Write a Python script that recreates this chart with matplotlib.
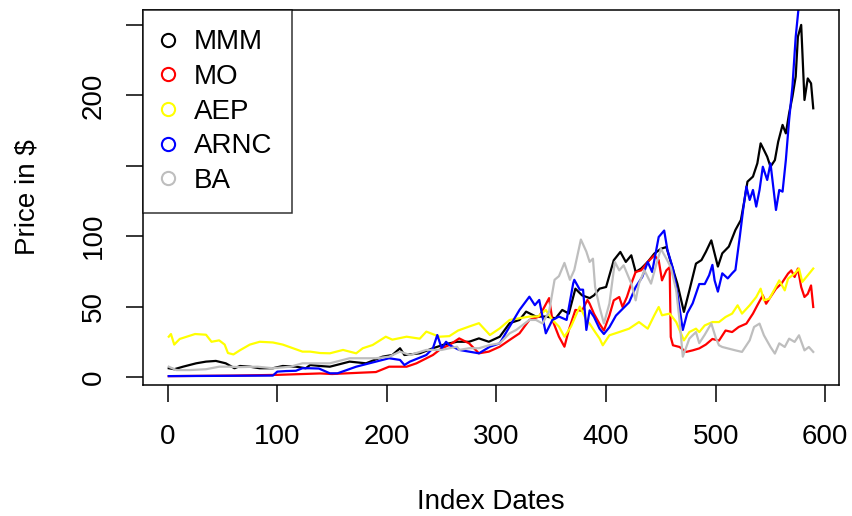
import matplotlib.pyplot as plt
from matplotlib.lines import Line2D

plt.rcParams['font.family'] = ['Liberation Sans', 'DejaVu Sans']

# values (index, price)
mmm_x = [1, 6, 14, 26, 35, 44, 53, 61, 66, 75, 84, 96, 105, 117, 126, 130, 139, 148, 166, 181,
         196, 205, 212, 216, 230, 242, 251, 257, 264, 275, 284, 293, 303, 312, 321, 327, 336, 345,
         354, 360, 366, 372, 378, 385, 389, 394, 400, 407, 413, 418, 423, 427, 432, 438, 444, 450,
         455, 459, 465, 471, 476, 482, 487, 491, 496, 502, 506, 512, 518, 523, 526, 529, 534, 538,
         541, 544, 547, 550, 554, 557, 561, 564, 567, 570, 573, 575, 578, 581, 584, 587, 589]
mmm_y = [6.2, 5.5, 7.3, 9.7, 10.9, 11.4, 9.7, 6.2, 7.8, 7.3, 6.2, 6.2, 7.8, 7.3, 6.2, 8.5, 7.8, 7.3, 10.9, 9.7,
         14.4, 15.6, 20.4, 15.6, 16.8, 20.4, 22.7, 23.9, 25, 25, 27.4, 25, 28.6, 38.2, 40.5, 46.4, 42.9, 42.9,
         41.7, 47.6, 45, 62.7, 58, 56, 58, 62.7, 63.9, 82.9, 88.8, 81.7, 86.4, 74.6, 77, 81.7, 87.6, 91,
         92.3, 81.7, 66.3, 46.2, 61.5, 80.5, 83, 88.8, 97, 78.4, 87.8, 92.6, 104.4, 111.5, 124.5, 138.7, 142.3, 151.7,
         165.9, 161.2, 156.4, 149.3, 154, 167, 179, 173, 187.3, 199, 213.3, 241.6, 250, 196.7, 212, 208.5, 190.8]

mo_x = [1, 30, 60, 100, 139, 150, 175, 190, 202, 218, 227, 242, 250, 257, 266, 275, 284, 293, 303, 312,
        321, 330, 339, 348, 351, 357, 362, 366, 372, 378, 383, 385, 389, 394, 398, 403, 407, 412, 415, 419,
        423, 427, 432, 438, 444, 448, 451, 455, 458, 459, 461, 467, 473, 479, 485, 491, 497, 503, 509, 515,
        521, 528, 534, 538, 543, 546, 550, 555, 560, 566, 569, 572, 575, 578, 581, 584, 587, 589]
mo_y = [0.6, 0.8, 1.0, 1.5, 2.5, 2.1, 3.0, 3.5, 7.3, 7.3, 9.7, 15.6, 20.4, 22.7, 27.4, 23.9, 16.8, 18, 21.5, 26.3,
        31, 40.5, 42.9, 56, 40.5, 28.6, 21.5, 33.4, 47.6, 47, 54.7, 52, 44.8, 37.8, 33, 43.6, 54.4, 56.8, 49.7, 56.8,
        66.3, 74.6, 75.7, 81.7, 86.4, 82.9, 68.6, 75.7, 78, 28.4, 22.5, 21.3, 17.8, 18.9, 20.3, 23, 27, 25.8, 33, 31.9,
        35.5, 37.9, 45, 50.9, 58, 52, 56.8, 62.7, 66.3, 73.4, 75.7, 71, 77, 63.9, 56.8, 59, 65, 49.7]

aep_x = [1, 3, 6, 11, 25, 35, 40, 47, 52, 55, 60, 66, 75, 84, 96, 105, 114, 123, 130, 139,
         148, 160, 172, 178, 187, 199, 205, 218, 230, 236, 248, 257, 265, 275, 284, 294, 303, 312, 321, 330,
         338, 345, 351, 357, 362, 368, 376, 382, 385, 390, 394, 397, 403, 412, 421, 430, 438, 444, 448, 451,
         458, 464, 471, 476, 482, 485, 490, 497, 503, 509, 515, 520, 524, 531, 537, 541, 544, 549, 554, 558,
         563, 566, 572, 576, 579, 584, 589]
aep_y = [28.6, 30.5, 23, 27, 30.5, 30, 25, 26, 23, 17, 16, 19, 23, 25, 24.5, 23, 20.5, 18, 18, 17,
         16.8, 19.2, 16.8, 20.4, 22.7, 28.6, 26.5, 28.6, 27.2, 32.2, 28.6, 29, 33, 35.8, 38.2, 29.8, 34.5, 40.5, 41.7, 42.9,
         43, 47.6, 40.5, 35.8, 28.6, 35.8, 50, 40.5, 37.8, 31.9, 27.4, 22.5, 29.6, 31.9, 34.3, 39, 34.3, 43.8, 49.7, 43.8,
         45, 39, 26, 31.9, 34.3, 31.9, 36.6, 39, 39, 42.6, 45, 50.9, 45, 50.9, 56.8, 62.7, 54.4, 55.6, 62.7, 68.6,
         61.5, 69.8, 73.4, 77, 67.5, 72.2, 77]

arnc_x = [1, 50, 96, 100, 108, 117, 123, 129, 138, 148, 155, 172, 190, 202, 212, 216, 221, 236, 242, 246,
          250, 254, 257, 266, 275, 284, 294, 303, 312, 321, 330, 335, 339, 345, 351, 357, 364, 370, 371, 376,
          379, 382, 385, 389, 394, 398, 403, 409, 415, 421, 427, 433, 438, 442, 448, 453, 456, 461, 465, 470,
          474, 479, 485, 490, 494, 497, 499, 502, 506, 511, 515, 518, 522, 525, 528, 531, 534, 537, 540, 543,
          547, 550, 555, 558, 561, 564, 567, 570, 573, 576, 578]
arnc_y = [0.6, 0.8, 1, 3.8, 4.2, 4.4, 6.2, 6.2, 6, 2.6, 2.6, 7.3, 10.9, 13.3, 12.1, 8.5, 10.9, 15.6, 20.4, 29.8,
          20.4, 25, 22.7, 19.2, 18, 16.8, 21.5, 23.9, 35.8, 47.6, 57, 51, 54.7, 31, 40.5, 42.9, 40.5, 66.5, 69, 62,
          62, 33.4, 47.3, 42.6, 34.3, 30.5, 35.3, 43.6, 48.3, 53, 63.9, 71, 81.7, 74.6, 99.4, 104, 90, 77, 59.4, 33.4,
          45.2, 52.3, 66, 66, 72.2, 79.6, 68.6, 60.6, 73.6, 70, 73.6, 76, 99.7, 118.6, 135.2, 125.7, 132.8, 121, 132.8, 149.3,
          139.9, 151.7, 118.6, 132.8, 131.6, 154, 182.5, 206.2, 241.6, 265, 272]

ba_x = [1, 8, 20, 35, 47, 56, 66, 82, 96, 112, 123, 130, 139, 148, 166, 190, 202, 212, 221, 236,
        250, 257, 264, 266, 275, 284, 294, 303, 312, 318, 330, 336, 342, 348, 353, 357, 362, 367, 371, 377,
        382, 385, 388, 390, 394, 398, 403, 408, 412, 416, 423, 427, 430, 435, 441, 446, 450, 455, 459, 464,
        467, 470, 476, 482, 485, 490, 496, 500, 503, 506, 512, 518, 524, 531, 535, 540, 544, 550, 554, 558,
        563, 567, 572, 576, 581, 585, 589]
ba_y = [7.3, 4.9, 4.9, 5.5, 7.3, 7.3, 7, 7.3, 6.2, 7.3, 9.7, 9.7, 9.7, 9.7, 13.3, 13.3, 14.4, 18, 15.6, 19.2,
        19.2, 20.4, 21.5, 19.2, 20.4, 20.4, 22.7, 23.9, 31, 33.4, 40.5, 40.5, 38, 46.4, 69, 71.6, 81, 69, 76, 97.6,
        89, 81.7, 84, 63.9, 49.7, 38, 52, 81.7, 75.7, 79.3, 66.3, 54.4, 66.3, 75.7, 66.3, 80.5, 91, 84, 78, 61.5,
        40.2, 14.4, 27.3, 31.9, 24, 30, 38, 28, 22.5, 21.3, 20.1, 18.9, 17.8, 26, 35.5, 37.9, 29.6, 21.3, 16.6, 23.9,
        21.3, 27.2, 24.9, 29.6, 18.9, 21.3, 17.8]

names = ['MMM', 'MO', 'AEP', 'ARNC', 'BA']
colors = ['black', 'red', 'yellow', 'blue', '#BEBEBE']

x_ticks = [0, 100, 200, 300, 400, 500, 600]
y_ticks = [0, 50, 100, 150, 200, 250]
y_tick_labels = ['0', '50', '100', '', '200', '']

fig = plt.figure(figsize=(8.52, 5.16), dpi=100)
ax = fig.add_axes([143 / 852, 1 - 385 / 516, (839 - 143) / 852, (385 - 10) / 516])

series = [(mmm_x, mmm_y), (mo_x, mo_y), (aep_x, aep_y), (arnc_x, arnc_y), (ba_x, ba_y)]
for (xs, ys), c in zip(series, colors):
    ax.plot(xs, ys, color=c, linewidth=1.6)

ax.set_xlim(-22.5, 612.5)
ax.set_ylim(-5.7, 260.6)
ax.set_xticks(x_ticks)
ax.set_xticklabels([str(t) for t in x_ticks])
ax.set_yticks(y_ticks)
ax.set_yticklabels(y_tick_labels, rotation=90, va='center')
ax.tick_params(axis='both', labelsize=20, length=12, width=1.1, color='black')
ax.tick_params(axis='x', pad=16)
ax.tick_params(axis='y', pad=14)
for s in ax.spines.values():
    s.set_linewidth(1.1)
ax.set_xlabel('Index Dates', fontsize=20, labelpad=28)
ax.set_ylabel('Price in $', fontsize=20, labelpad=29)

handles = [Line2D([], [], linestyle='none', marker='o', markersize=9.5, markerfacecolor='none',
                  markeredgecolor=c, markeredgewidth=1.5) for c in colors]
leg = ax.legend(handles, names, loc='upper left', borderaxespad=0, fontsize=20, frameon=True,
                fancybox=False, edgecolor='black', handlelength=0.4, handletextpad=0.72,
                labelspacing=0.31, borderpad=0.7)
leg.get_frame().set_linewidth(1.1)

plt.savefig('out.png', dpi=100)
